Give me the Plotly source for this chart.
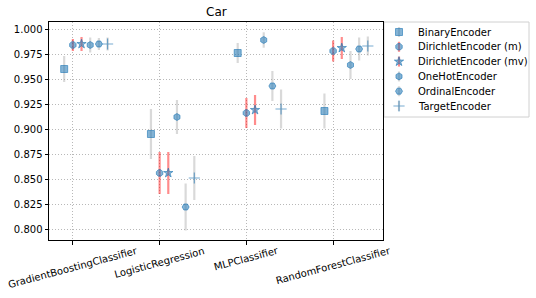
import plotly.graph_objects as go

classifiers = ["GradientBoostingClassifier", "LogisticRegression", "MLPClassifier", "RandomForestClassifier"]
encoders = ["BinaryEncoder", "DirichletEncoder (m)", "DirichletEncoder (mv)",
            "OneHotEncoder", "OrdinalEncoder", "TargetEncoder"]

binary_mean = [0.960, 0.895, 0.976, 0.918]
binary_err = [0.013, 0.025, 0.010, 0.0175]
dir_m_mean = [0.984, 0.856, 0.916, 0.978]
dir_m_err = [0.006, 0.021, 0.015, 0.0105]
dir_mv_mean = [0.985, 0.856, 0.919, 0.981]
dir_mv_err = [0.007, 0.021, 0.015, 0.011]
onehot_mean = [0.984, 0.912, 0.989, 0.964]
onehot_err = [0.0075, 0.017, 0.0077, 0.014]
ordinal_mean = [0.985, 0.822, 0.943, 0.980]
ordinal_err = [0.006, 0.0235, 0.015, 0.0115]
target_mean = [0.985, 0.851, 0.920, 0.983]
target_err = [0.0065, 0.022, 0.0195, 0.0095]

means = [binary_mean, dir_m_mean, dir_mv_mean, onehot_mean, ordinal_mean, target_mean]
errs = [binary_err, dir_m_err, dir_mv_err, onehot_err, ordinal_err, target_err]
symbols = ["square", "octagon", "star", "hexagon", "hexagon2", "cross-thin"]
sizes = [7, 7, 7, 7, 7, 8]
offsets = [-0.1, 0.0, 0.1, 0.2, 0.3, 0.4]
err_colors = ["rgba(160,160,160,0.4)", "rgba(255,0,0,0.45)", "rgba(255,0,0,0.45)",
              "rgba(160,160,160,0.4)", "rgba(160,160,160,0.4)", "rgba(160,160,160,0.4)"]

W, H = 536, 298
FONT = "DejaVu Sans"
# plot area in pixels
L, R, T, B = 49, 383, 22, 240
# legend box in pixels
LG_L, LG_R, LG_T, LG_B = 384, 529, 22, 117

def px_x(p):
    return p / W

def px_y(p):
    return 1 - p / H

fig = go.Figure()
for i, enc in enumerate(encoders):
    xs = [j + offsets[i] for j in range(len(classifiers))]
    mk = dict(symbol=symbols[i], size=sizes[i], color="rgba(31,119,180,0.55)",
              line=dict(color="rgba(31,119,180,0.6)", width=1))
    if symbols[i] == "cross-thin":
        mk["line"] = dict(color="rgba(31,119,180,0.6)", width=1.2)
    fig.add_trace(go.Scatter(
        x=xs, y=means[i], mode="markers", name=enc, marker=mk, showlegend=False,
        xaxis="x", yaxis="y",
        error_y=dict(type="data", array=errs[i], color=err_colors[i], thickness=2.2, width=0),
    ))
    # legend entry (hidden helper axes, pixel units inside the legend box)
    ly = 10 + i * 14.8
    fig.add_trace(go.Scatter(
        x=[15], y=[ly], mode="markers", marker=mk, showlegend=False, hoverinfo="skip",
        xaxis="x2", yaxis="y2",
        error_y=dict(type="constant", value=5, color=err_colors[i], thickness=2.2, width=0),
    ))
    fig.add_annotation(x=32, y=ly, xref="x2", yref="y2", text=enc, showarrow=False,
                       xanchor="left", yanchor="middle",
                       font=dict(family=FONT, size=10, color="#000"))

fig.add_shape(type="rect", xref="paper", yref="paper",
              x0=px_x(LG_L), x1=px_x(LG_R), y0=px_y(LG_B), y1=px_y(LG_T),
              line=dict(color="#d0d0d0", width=1), fillcolor="rgba(255,255,255,0)", layer="below")

for j, c in enumerate(classifiers):
    fig.add_annotation(x=j, y=px_y(242.5), xref="x", yref="paper", text=c, showarrow=False,
                       textangle=-15, xanchor="center", yanchor="top",
                       font=dict(family=FONT, size=10, color="#000"))

fig.add_annotation(x=px_x((L + R) / 2), y=px_y(12), xref="paper", yref="paper", text="Car",
                   showarrow=False, xanchor="center", yanchor="middle",
                   font=dict(family=FONT, size=12, color="#000"))

grid = dict(showgrid=True, gridcolor="#b8b8b8", griddash="1px,2px", gridwidth=0.8,
            showline=True, linecolor="#000", linewidth=1, mirror=True,
            ticks="outside", ticklen=3.5, tickcolor="#000", zeroline=False)

fig.update_layout(
    width=W, height=H,
    margin=dict(l=0, r=0, t=0, b=0, autoexpand=False),
    paper_bgcolor="white", plot_bgcolor="white",
    font=dict(family=FONT, size=10, color="#000"),
    showlegend=False,
    xaxis=dict(range=[-0.275, 3.575], tickvals=[0, 1, 2, 3], ticktext=["", "", "", ""],
               domain=[px_x(L), px_x(R)], anchor="y", **grid),
    yaxis=dict(range=[0.789, 1.007],
               tickvals=[0.8, 0.825, 0.85, 0.875, 0.9, 0.925, 0.95, 0.975, 1.0],
               tickformat=".3f", domain=[px_y(B), px_y(T)], anchor="x", **grid),
    xaxis2=dict(domain=[px_x(LG_L), px_x(LG_R)], range=[0, LG_R - LG_L], visible=False,
                anchor="y2", fixedrange=True),
    yaxis2=dict(domain=[px_y(LG_B), px_y(LG_T)], range=[LG_B - LG_T, 0], visible=False,
                anchor="x2", fixedrange=True),
)

fig.write_html("out.html", config={"displayModeBar": False},
               post_script="document.body.style.margin='0';document.body.style.overflow='hidden';")
